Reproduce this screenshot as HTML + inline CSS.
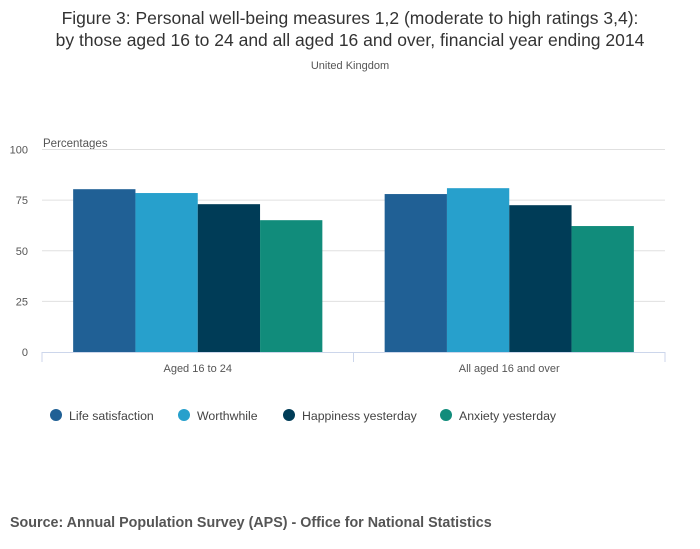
<!DOCTYPE html>
<html><head><meta charset="utf-8"><style>
body{margin:0;background:#fff;font-family:"Liberation Sans",sans-serif;}
svg{display:block}
</style></head><body>
<svg id="c" width="700" height="549">
<text x="350" y="24" text-anchor="middle" font-size="17.5" fill="#333">Figure 3: Personal well-being measures 1,2 (moderate to high ratings 3,4):</text>
<text x="350" y="46" text-anchor="middle" font-size="17.5" fill="#333">by those aged 16 to 24 and all aged 16 and over, financial year ending 2014</text>
<text x="350" y="69" text-anchor="middle" font-size="11" fill="#555">United Kingdom</text>
<text x="43" y="147" font-size="11.5" fill="#555">Percentages</text>
<text x="10" y="527" font-size="14.3" font-weight="bold" fill="#555">Source: Annual Population Survey (APS) - Office for National Statistics</text>
<g id="grid"></g><g id="bars"></g><g id="axis"></g><g id="legend"></g>
</svg>
<script>
const categories=["Aged 16 to 24","All aged 16 and over"];
const seriesNames=["Life satisfaction","Worthwhile","Happiness yesterday","Anxiety yesterday"];
const lifeSatisfaction=[80.4,78];
const worthwhile=[78.5,80.9];
const happiness=[73,72.5];
const anxiety=[65.1,62.2];
const yTicks=[0,25,50,75,100];
const colors=["#206095","#27a0cc","#003c57","#118c7b"];
const series=[lifeSatisfaction,worthwhile,happiness,anxiety];
const NS="http://www.w3.org/2000/svg";
const x0=42,x1=665,yTop=149.5,yBot=352;
const y=v=>yBot-(v/100)*(yBot-yTop);
const gw=(x1-x0)/categories.length;
function mk(t,a,p){const e=document.createElementNS(NS,t);for(const k in a)e.setAttribute(k,a[k]);p.appendChild(e);return e;}
const grid=document.getElementById('grid');
yTicks.forEach(t=>{
 if(t>0){const l=mk('line',{x1:x0,x2:x1,y1:y(t),y2:y(t),stroke:'#e0e0e0'},grid);
 
 }
 const tx=mk('text',{x:28,y:y(t)+4,'text-anchor':'end','font-size':'11',fill:'#555'},grid);
 tx.textContent=t;
 
 
});
const bars=document.getElementById('bars');
const bw=gw*0.8/series.length;
categories.forEach((c,i)=>{
 series.forEach((s,j)=>{
  const bx=x0+i*gw+gw*0.1+j*bw;
  const r=mk('rect',{x:bx,y:y(s[i]),width:bw,height:yBot-y(s[i]),fill:colors[j]},bars);
  
  
 });
});
const ax=document.getElementById('axis');
const al=mk('line',{x1:x0,x2:x1,y1:yBot+0.5,y2:yBot+0.5,stroke:'#ccd6eb'},ax);


for(let i=0;i<=categories.length;i++){
 const tk=mk('line',{x1:x0+i*gw,x2:x0+i*gw,y1:yBot,y2:yBot+10,stroke:'#ccd6eb'},ax);
 
 
}
categories.forEach((c,i)=>{
 const t=mk('text',{x:x0+(i+0.5)*gw,y:372,'text-anchor':'middle','font-size':'11',fill:'#555'},ax);
 t.textContent=c;
 
 
});
const lg=document.getElementById('legend');
const lx=[56,184,289,446];
seriesNames.forEach((n,j)=>{
 const g=mk('g',{},lg);
 
 
 mk('circle',{cx:lx[j],cy:415,r:6,fill:colors[j]},g);
 const t=mk('text',{x:lx[j]+13,y:420,'font-size':'12.3',fill:'#444'},g);
 t.textContent=n;
});
</script>
</body></html>
